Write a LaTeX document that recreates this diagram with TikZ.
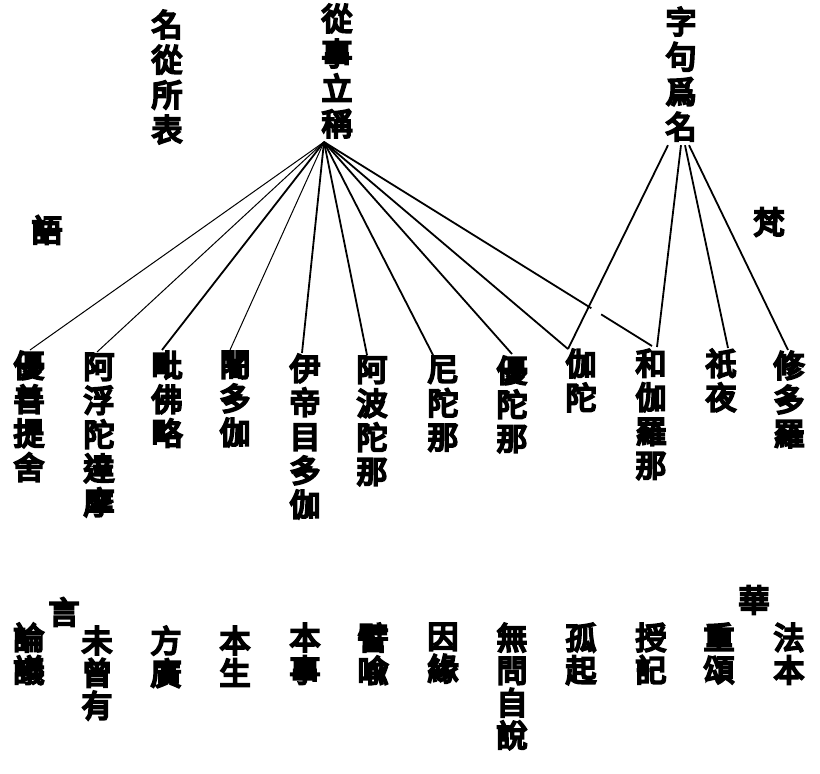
\documentclass[tikz,border=0pt]{standalone}
\usepackage{fontspec}
\newfontfamily\cjk[FakeBold=7]{Noto Sans CJK TC}
\usetikzlibrary{calc}

\begin{document}
\begin{tikzpicture}[x=1pt, y=-1pt,
        col/.style={inner sep=0pt, anchor=north, align=center, font=\cjk\fontsize{31}{34}\selectfont},
        toprow/.style={col, font=\cjk\fontsize{31}{35}\selectfont},
        lowrow/.style={col, font=\cjk\fontsize{31}{32.5}\selectfont},
        side/.style={inner sep=0pt, font=\cjk\fontsize{31}{34}\selectfont},
        ln/.style={line width=1pt},
        lnb/.style={line width=1.8pt}]
    \useasboundingbox (0, 0) rectangle (820, 774);

    \node[toprow] (mingcong) at (167, 10) {名\\從\\所\\表};
    \node[toprow] (congshi) at (337, 4) {從\\事\\立\\稱};
    \node[toprow] (zijv) at (681, 7) {字\\句\\爲\\名};

    \node[side] (yu) at (47, 230) {語};
    \node[side] (fan) at (769, 222) {梵};

    \node[col] (upadesa) at (29, 351) {優\\善\\提\\舍};
    \node[col] (adbhuta) at (99, 353) {阿\\浮\\陀\\達\\摩};
    \node[col] (vaipulya) at (167, 351) {毗\\佛\\略};
    \node[col] (jataka) at (235, 351) {闍\\多\\伽};
    \node[col] (itivrttaka) at (305, 354) {伊\\帝\\目\\多\\伽};
    \node[col] (avadana) at (372, 356) {阿\\波\\陀\\那};
    \node[col] (nidana) at (443, 356) {尼\\陀\\那};
    \node[col] (udana) at (512, 356) {優\\陀\\那};
    \node[col] (gatha) at (581, 349) {伽\\陀};
    \node[col] (vyakarana) at (651, 349) {和\\伽\\羅\\那};
    \node[col] (geya) at (721, 349) {祇\\夜};
    \node[col] (sutra) at (789, 351) {修\\多\\羅};

    \node[side] (yan) at (64, 612) {言};
    \node[side] (hua) at (754, 600) {華};

    \node[lowrow] (lunyi) at (29, 623) {論\\議};
    \node[lowrow] (weicengyou) at (97, 626) {未\\曾\\有};
    \node[lowrow] (fangguang) at (166, 626) {方\\廣};
    \node[lowrow] (bensheng) at (235, 626) {本\\生};
    \node[lowrow] (benshi) at (305, 623) {本\\事};
    \node[lowrow] (piyu) at (373, 623) {譬\\喩};
    \node[lowrow] (yinyuan) at (443, 623) {因\\緣};
    \node[lowrow] (wuwen) at (512, 623) {無\\問\\自\\說};
    \node[lowrow] (guqi) at (581, 623) {孤\\起};
    \node[lowrow] (shouji) at (651, 623) {授\\記};
    \node[lowrow] (chongsong) at (719, 623) {重\\頌};
    \node[lowrow] (faben) at (789, 623) {法\\本};

    \coordinate (cs) at ([xshift=-13pt, yshift=-4pt]congshi.south);
    \coordinate (zj) at ([yshift=-4pt]zijv.south);

    \draw[ln] (cs) -- ([xshift=1pt, yshift=1pt]upadesa.north);
    \draw[ln] (cs) -- ([xshift=-2pt, yshift=1pt]adbhuta.north);
    \draw[lnb] (cs) -- ([xshift=-5pt, yshift=1pt]vaipulya.north);
    \draw[ln] (cs) -- ([xshift=-5pt, yshift=1pt]jataka.north);
    \draw[lnb] (cs) -- ([xshift=-3pt, yshift=1pt]itivrttaka.north);
    \draw[lnb] (cs) -- ([xshift=-5pt, yshift=1pt]avadana.north);
    \draw[lnb] (cs) -- ([xshift=-10pt, yshift=1pt]nidana.north);
    \draw[lnb] (cs) -- ([yshift=2pt]udana.north);
    \draw[lnb] (cs) -- ([xshift=-13pt]gatha.north);
    \coordinate (vk) at ([xshift=1pt, yshift=3pt]vyakarana.north);
    \draw[lnb] (cs) -- ($(cs)!0.815!(vk)$);
    \draw[lnb] ($(cs)!0.845!(vk)$) -- (vk);

    \draw[lnb] ([xshift=-13pt]zj) -- ([xshift=-13pt]gatha.north);
    \draw[lnb] (zj) -- ([xshift=6pt, yshift=2pt]vyakarana.north);
    \draw[lnb] ([xshift=4pt]zj) -- ([xshift=7pt, yshift=1pt]geya.north);
    \draw[lnb] ([xshift=8pt]zj) -- ([xshift=-1pt, yshift=1pt]sutra.north);
\end{tikzpicture}
\end{document}
